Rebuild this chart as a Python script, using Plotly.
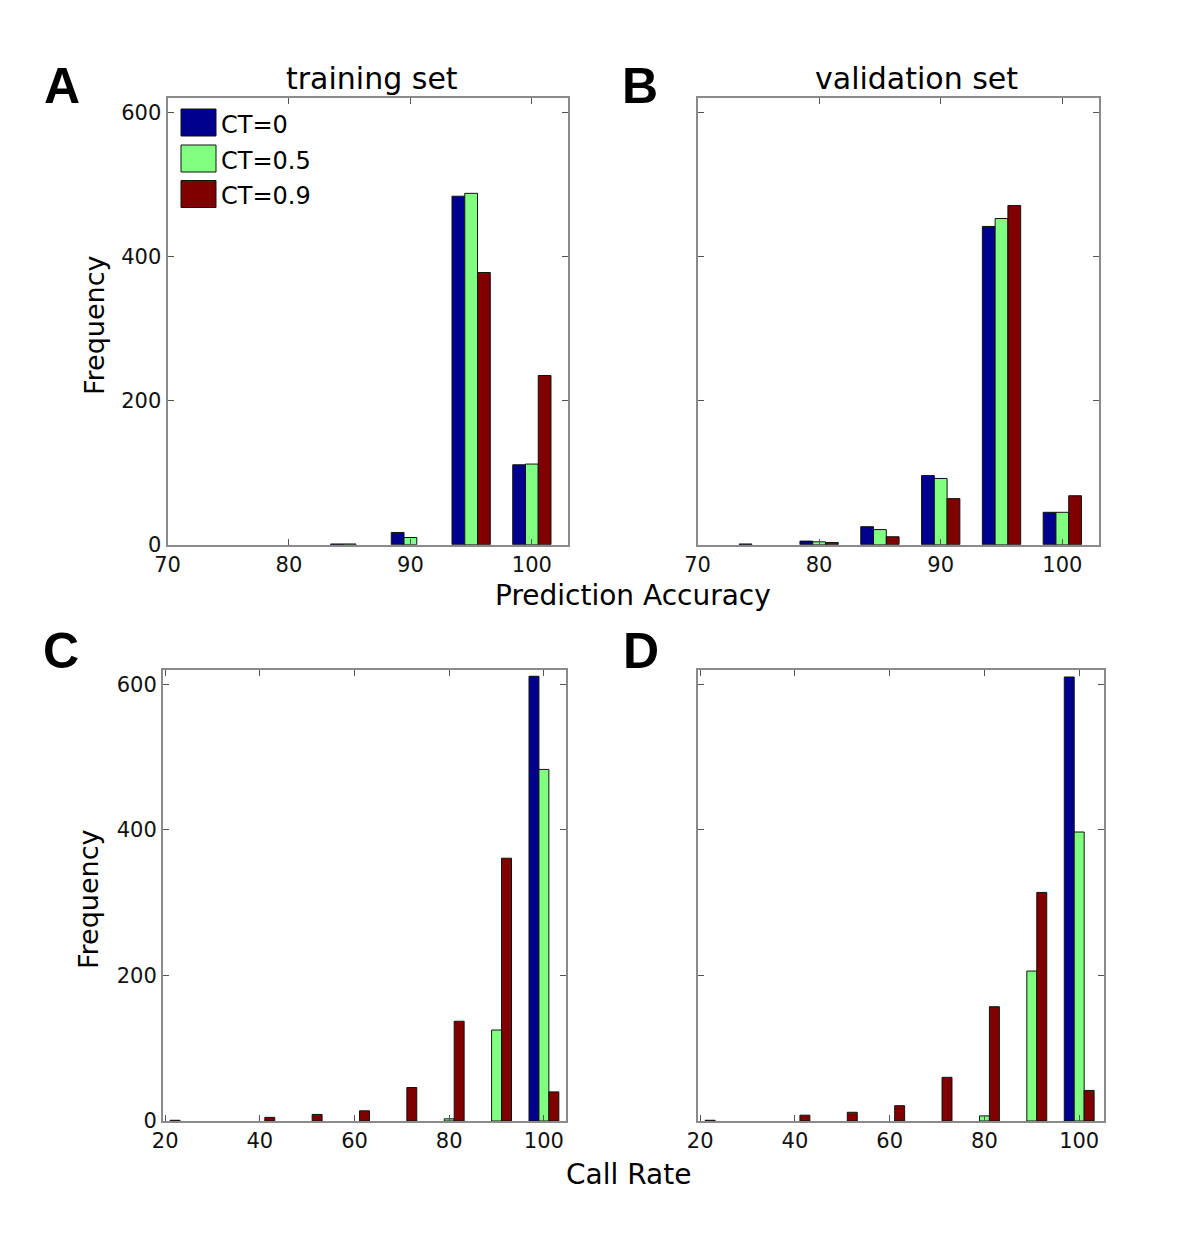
import plotly.graph_objects as go

W, H = 1200, 1240

# ---------------- data ----------------
series_names = ["CT=0", "CT=0.5", "CT=0.9"]
series_colors = ["#00008F", "#80FF80", "#800000"]

acc_bins = [75, 80, 85, 90, 95, 100]
A_ct0 = [0, 0, 1, 17, 484, 111]
A_ct05 = [0, 0, 1, 10, 488, 112]
A_ct09 = [0, 0, 0, 0, 378, 235]

B_ct0 = [1, 5, 25, 96, 442, 45]
B_ct05 = [0, 4, 21, 92, 453, 45]
B_ct09 = [0, 3, 11, 64, 471, 68]

rate_bins = [20, 30, 40, 50, 60, 70, 80, 90, 100]
C_ct0 = [0, 0, 0, 0, 0, 0, 0, 0, 611]
C_ct05 = [0, 0, 0, 0, 0, 0, 3, 125, 483]
C_ct09 = [1, 0, 5, 9, 14, 46, 137, 361, 40]

D_ct0 = [0, 0, 0, 0, 0, 0, 0, 0, 610]
D_ct05 = [0, 0, 0, 0, 0, 0, 7, 206, 397]
D_ct09 = [1, 0, 8, 12, 21, 60, 157, 314, 42]

acc_ticks = [70, 80, 90, 100]
rate_ticks = [20, 40, 60, 80, 100]
freq_ticks = [0, 200, 400, 600]

panel_letters = ["A", "B", "C", "D"]
panel_titles = ["training set", "validation set"]
xlabel_top = "Prediction Accuracy"
xlabel_bottom = "Call Rate"
ylabel = "Frequency"

# ---------------- helpers ----------------
OFF = 8  # page body margin

def px_x(p):
    return (p - OFF) / W

def px_y(p):
    return 1 - (p - OFF) / H

FONT = "DejaVu Sans"
AXCOL = "#8a8a8a"

fig = go.Figure()

panels = [
    ("x", "y", acc_bins, [A_ct0, A_ct05, A_ct09]),
    ("x2", "y2", acc_bins, [B_ct0, B_ct05, B_ct09]),
    ("x3", "y3", rate_bins, [C_ct0, C_ct05, C_ct09]),
    ("x4", "y4", rate_bins, [D_ct0, D_ct05, D_ct09]),
]
for xa, ya, bins, vals in panels:
    for name, col, v in zip(series_names, series_colors, vals):
        fig.add_trace(go.Bar(
            x=bins, y=[c if c else None for c in v], name=name, xaxis=xa, yaxis=ya,
            marker=dict(color=col, line=dict(color="#111111", width=1)),
            showlegend=False,
        ))

def xaxis(domain, rng, ticks, anchor):
    return dict(domain=domain, range=rng, tickvals=ticks, anchor=anchor,
                automargin=False,
                showgrid=False, zeroline=False, showline=True, linecolor=AXCOL,
                linewidth=2, mirror="ticks", ticks="inside", ticklen=6,
                tickcolor="#555555", tickwidth=1,
                tickfont=dict(family=FONT, size=21, color="#111111"))

def yaxis(domain, rng, anchor, labels):
    return dict(domain=domain, range=rng, tickvals=freq_ticks, anchor=anchor,
                automargin=False,
                showgrid=False, zeroline=False, showline=True, linecolor=AXCOL,
                linewidth=2, mirror="ticks", ticks="inside", ticklen=6,
                tickcolor="#555555", tickwidth=1, showticklabels=labels,
                tickfont=dict(family=FONT, size=21, color="#111111"))

top_dom = [px_y(544.7), px_y(98)]
bot_dom = [px_y(1121), px_y(670)]

fig.update_layout(
    width=W, height=H,
    margin=dict(l=0, r=0, t=0, b=0, autoexpand=False),
    paper_bgcolor="white", plot_bgcolor="white",
    barmode="group", bargap=0.37, bargroupgap=0.0,
    xaxis=xaxis([px_x(167.5), px_x(568.3)], [70, 103.0], acc_ticks, "y"),
    yaxis=yaxis(top_dom, [0, 620.4], "x", True),
    xaxis2=xaxis([px_x(697.5), px_x(1099.3)], [70, 103.04], acc_ticks, "y2"),
    yaxis2=yaxis(top_dom, [0, 620.4], "x2", False),
    xaxis3=xaxis([px_x(163), px_x(565.7)], [19.55, 104.6], rate_ticks, "y3"),
    yaxis3=yaxis(bot_dom, [0, 619.6], "x3", True),
    xaxis4=xaxis([px_x(698.3), px_x(1104.3)], [19.6, 105.3], rate_ticks, "y4"),
    yaxis4=yaxis(bot_dom, [0, 619.6], "x4", False),
)

ann = []
def text(s, x, y, size, bold=False, angle=0, xanchor="center", family=FONT):
    ann.append(dict(text=("<b>%s</b>" % s) if bold else s, x=px_x(x), y=px_y(y),
                    xref="paper", yref="paper", showarrow=False,
                    xanchor=xanchor, yanchor="middle", textangle=angle,
                    font=dict(family=family, size=size, color="#000000")))

# panel letters
for letter, (lx, ly) in zip(panel_letters, [(62, 86), (640, 86), (61, 651), (641, 651)]):
    text(letter, lx, ly, 50, bold=True, family="Liberation Sans")
# titles
text(panel_titles[0], 372, 79, 30)
text(panel_titles[1], 917, 79, 30)
# axis labels
text(xlabel_top, 633, 596, 28)
text(xlabel_bottom, 628, 1174, 28)
text(ylabel, 95, 325, 27, angle=-90)
text(ylabel, 88, 899, 27, angle=-90)

# legend (panel A)
shapes = []
leg_y = [122.5, 158.5, 194]
for name, col, cy in zip(series_names, series_colors, leg_y):
    shapes.append(dict(type="rect", xref="paper", yref="paper",
                       x0=px_x(181), x1=px_x(216), y0=px_y(cy + 13.5), y1=px_y(cy - 13.5),
                       fillcolor=col, line=dict(color="#111111", width=1)))
    text(name, 219, cy + 2, 24, xanchor="left")

fig.update_layout(annotations=ann, shapes=shapes)
fig.write_html("out.html")
